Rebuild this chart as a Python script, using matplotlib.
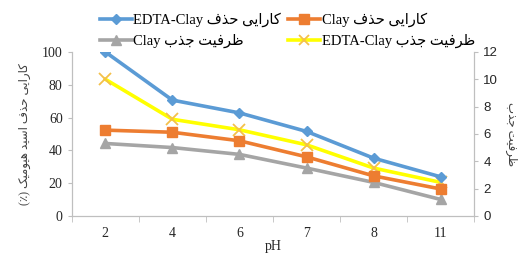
import matplotlib
matplotlib.use('Agg')
import matplotlib.pyplot as plt
from matplotlib.lines import Line2D
import numpy as np

# data
ph = ['2', '4', '6', '7', '8', '11']
removal_edta = [100, 70.6, 62.8, 51.5, 35.2, 23.8]
removal_clay = [52.3, 51.0, 45.8, 36.0, 24.4, 16.4]
capacity_clay = [5.3, 5.0, 4.5, 3.5, 2.45, 1.2]
capacity_edta = [10.0, 7.07, 6.3, 5.2, 3.5, 2.45]

# minimal Persian shaping (matplotlib has no RTL / joining support)
# (isolated, final, initial, medial)
FORMS = {
    'ا': ('\uFE8D', '\uFE8E', None, None),
    'ب': ('\uFE8F', '\uFE90', '\uFE91', '\uFE92'),
    'ت': ('\uFE95', '\uFE96', '\uFE97', '\uFE98'),
    'ج': ('\uFE9D', '\uFE9E', '\uFE9F', '\uFEA0'),
    'ح': ('\uFEA1', '\uFEA2', '\uFEA3', '\uFEA4'),
    'د': ('\uFEA9', '\uFEAA', None, None),
    'ذ': ('\uFEAB', '\uFEAC', None, None),
    'ر': ('\uFEAD', '\uFEAE', None, None),
    'س': ('\uFEB1', '\uFEB2', '\uFEB3', '\uFEB4'),
    'ظ': ('\uFEC5', '\uFEC6', '\uFEC7', '\uFEC8'),
    'ف': ('\uFED1', '\uFED2', '\uFED3', '\uFED4'),
    'م': ('\uFEE1', '\uFEE2', '\uFEE3', '\uFEE4'),
    'ه': ('\uFEE9', '\uFEEA', '\uFEEB', '\uFEEC'),
    'و': ('\uFEED', '\uFEEE', None, None),
    'ی': ('\uFBFC', '\uFBFD', '\uFBFE', '\uFBFF'),
    'ک': ('\uFB8E', '\uFB8F', '\uFB90', '\uFB91'),
}


def shape(text):
    out = []
    for i, ch in enumerate(text):
        f = FORMS.get(ch)
        if f is None:
            out.append(ch)
            continue
        prev = text[i - 1] if i > 0 else None
        nxt = text[i + 1] if i < len(text) - 1 else None
        join_prev = prev in FORMS and FORMS[prev][2] is not None
        join_next = nxt in FORMS and f[2] is not None
        if join_prev and join_next:
            out.append(f[3])
        elif join_prev:
            out.append(f[1])
        elif join_next:
            out.append(f[2])
        else:
            out.append(f[0])
    return ''.join(out)


def rtl(text):
    return shape(text)[::-1]


SERIF = ['Liberation Serif', 'DejaVu Sans']
label_removal_edta = 'EDTA-Clay ' + rtl('کارایی حذف')
label_removal_clay = 'Clay ' + rtl('کارایی حذف')
label_capacity_clay = 'Clay ' + rtl('ظرفیت جذب')
label_capacity_edta = 'EDTA-Clay ' + rtl('ظرفیت جذب')

plt.rcParams['font.family'] = SERIF

fig = plt.figure(figsize=(5.2, 2.57), dpi=100)
ax = fig.add_axes([0.138, 0.16, 0.774, 0.638])
ax2 = ax.twinx()

x = np.arange(len(ph))
lw = 2.6
ax.plot(x, removal_edta, color='#5B9BD5', lw=lw, marker='D', ms=5.5, zorder=5)
ax.plot(x, removal_clay, color='#ED7D31', lw=lw, marker='s', ms=6.5, zorder=4)
ax2.plot(x, capacity_clay, color='#A5A5A5', lw=lw, marker='^', ms=7, zorder=3)
ax2.plot(x, capacity_edta, color='#FFFF00', lw=lw, marker='x', ms=8,
         mec='#F4C04A', mew=1.3, zorder=3)
ax.set_zorder(ax2.get_zorder() + 1)
ax.patch.set_visible(False)

ax.set_xlim(-0.5, len(ph) - 0.5)
ax.set_ylim(0, 100)
ax2.set_ylim(0, 12)
ax.set_yticks(range(0, 101, 20))
ax2.set_yticks(range(0, 13, 2))
ax.set_xticks(x)
ax.set_xticklabels(ph)
ax.set_xticks(np.arange(-0.5, len(ph), 1), minor=True)

spine_col = '#BFBFBF'
for a in (ax, ax2):
    for s in a.spines.values():
        s.set_color(spine_col)
    a.spines['top'].set_visible(False)
ax.tick_params(axis='x', which='major', length=0, pad=8, labelsize=10, colors='#262626')
ax.tick_params(axis='x', which='minor', length=4, color=spine_col)
ax.tick_params(axis='y', length=3, labelsize=10, colors='#262626')
ax.tick_params(axis='y', color=spine_col)
ax2.tick_params(axis='y', length=3, labelsize=9.5, colors='#262626')
ax2.tick_params(axis='y', color=spine_col)
for t in ax2.get_yticklabels():
    t.set_family(['Liberation Sans', 'DejaVu Sans'])

ax.set_xlabel('pH', fontsize=10, labelpad=0, color='#262626')
ax.set_ylabel('(٪) ' + rtl('کارایی حذف اسید هیومیک'), fontsize=8.5,
              color='#404040', labelpad=8)
ax2.set_ylabel(rtl('ظرفیت جذب'), rotation=270, fontsize=8.5,
               color='#404040', labelpad=14)

handles = [
    Line2D([], [], color='#5B9BD5', lw=lw, marker='D', ms=5),
    Line2D([], [], color='#A5A5A5', lw=lw, marker='^', ms=6.5),
    Line2D([], [], color='#ED7D31', lw=lw, marker='s', ms=6.5),
    Line2D([], [], color='#FFFF00', lw=lw, marker='x', ms=7.5, mec='#F4C04A', mew=1.3),
]
labels = [label_removal_edta, label_capacity_clay, label_removal_clay, label_capacity_edta]
leg_kw = dict(loc='upper left', frameon=False, fontsize=10.5, handlelength=2.2,
              handletextpad=0.1, labelspacing=0.45, borderpad=0, borderaxespad=0)
leg1 = fig.legend(handles[:2], labels[:2], bbox_to_anchor=(0.192, 0.95), **leg_kw)
fig.legend(handles[2:], labels[2:], bbox_to_anchor=(0.554, 0.95), **leg_kw)

fig.savefig('out.png', dpi=100)
